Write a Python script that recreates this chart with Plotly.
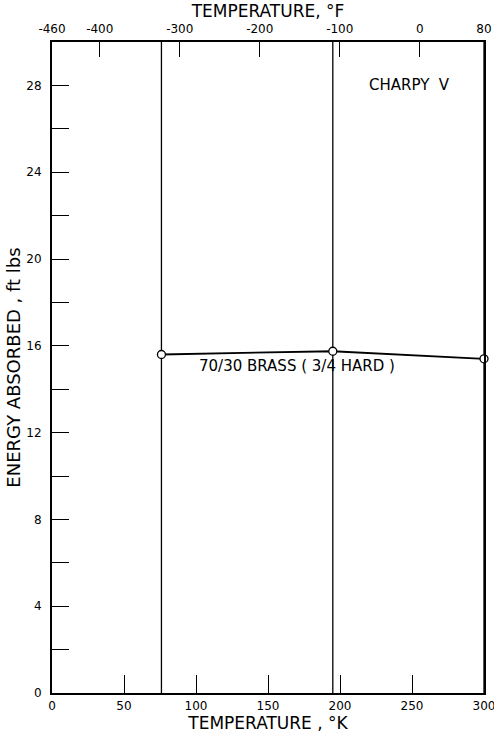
import plotly.graph_objects as go

# Data
temp_k = [76, 195, 300]
energy = [15.6, 15.75, 15.4]
test_temps_k = [76, 195, 300]
y_ticks = [0, 4, 8, 12, 16, 20, 24, 28]
y_minor_ticks = [2, 6, 10, 14, 18, 22, 26]
x_ticks_k = [0, 50, 100, 150, 200, 250, 300]
x_ticks_f = [-459.67, -400, -300, -200, -100, 0, 80.33]
x_ticks_f_text = ["-460", "-400", "-300", "-200", "-100", "0", "80"]

FONT = "DejaVu Sans"
fig = go.Figure()

for t in test_temps_k:
    fig.add_trace(go.Scatter(x=[t, t], y=[0, 30], mode="lines",
                             line=dict(color="black", width=1.3),
                             showlegend=False, hoverinfo="skip"))

fig.add_trace(go.Scatter(x=temp_k, y=energy, mode="lines+markers",
                         line=dict(color="black", width=1.8),
                         marker=dict(symbol="circle", size=8, color="white",
                                     line=dict(color="black", width=1.3)),
                         showlegend=False, cliponaxis=False))

# invisible trace for top axis
fig.add_trace(go.Scatter(x=[-459.67, 80.33], y=[0, 0], xaxis="x2", mode="markers",
                         marker=dict(opacity=0), showlegend=False, hoverinfo="skip"))

fig.add_annotation(x=248, y=28, text="CHARPY  V", showarrow=False,
                   font=dict(family=FONT, size=15, color="black"))
fig.add_annotation(x=170, y=15.05, text="70/30 BRASS ( 3/4 HARD )", showarrow=False,
                   font=dict(family=FONT, size=15, color="black"))

fig.update_layout(
    width=494, height=736,
    margin=dict(l=52, r=10, t=42, b=43),
    plot_bgcolor="white", paper_bgcolor="white",
    font=dict(family=FONT, size=12, color="black"),
    xaxis=dict(range=[0, 300], tickvals=x_ticks_k, ticks="inside", ticklen=18,
               tickwidth=1.2, tickcolor="black", showline=True, linecolor="black",
               linewidth=2, showgrid=False, zeroline=False, automargin=False,
               ticklabelstandoff=1, ticklabeloverflow="allow",
               title=dict(text="TEMPERATURE , °K", font=dict(family=FONT, size=17), standoff=0),
               tickfont=dict(family=FONT, size=12)),
    xaxis2=dict(range=[-459.67, 80.33], overlaying="x", side="top", tickvals=x_ticks_f,
                ticktext=x_ticks_f_text,
                ticks="inside", ticklen=15, tickwidth=1.2, tickcolor="black",
                showline=True, linecolor="black", linewidth=2, showgrid=False,
                zeroline=False, automargin=False, ticklabelstandoff=2,
                ticklabeloverflow="allow",
                title=dict(text="TEMPERATURE, °F", font=dict(family=FONT, size=17), standoff=0),
                tickfont=dict(family=FONT, size=12)),
    yaxis=dict(range=[0, 30], tickvals=y_ticks, ticks="inside", ticklen=17,
               tickwidth=1.2, tickcolor="black", showline=True, linecolor="black",
               linewidth=2, mirror=True, showgrid=False, zeroline=False,
               automargin=False, ticklabelstandoff=6, ticklabeloverflow="allow",
               minor=dict(tickvals=y_minor_ticks, ticks="inside",
                          ticklen=17, tickwidth=1.2, tickcolor="black", showgrid=False),
               title=dict(text="ENERGY ABSORBED , ft lbs", font=dict(family=FONT, size=18), standoff=1),
               tickfont=dict(family=FONT, size=12)),
)

fig.write_html("out.html", config={"displayModeBar": False},
               post_script="document.body.style.margin='0';document.body.style.overflow='hidden';")
